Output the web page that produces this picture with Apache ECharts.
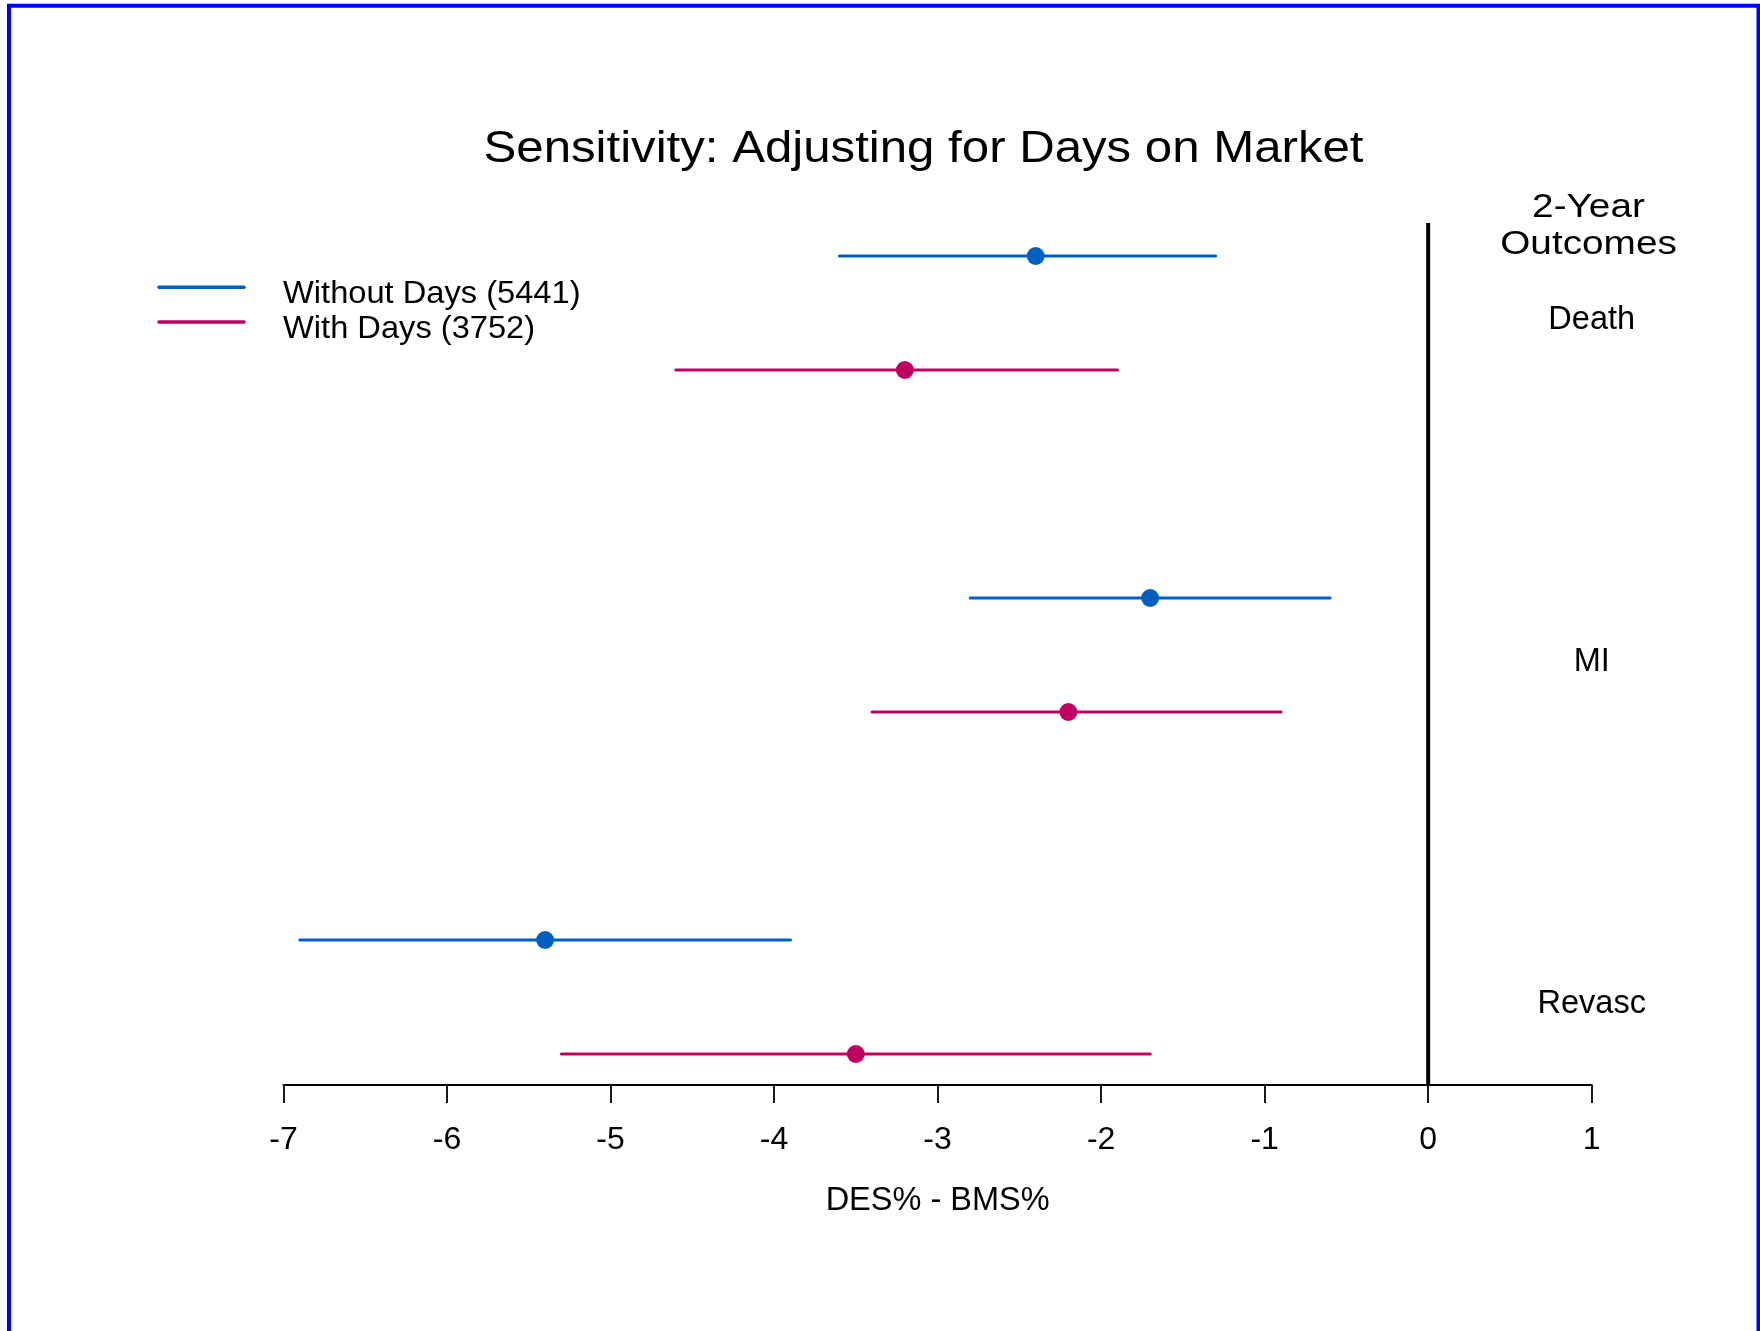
<!DOCTYPE html>
<html>
<head>
<meta charset="utf-8">
<script src="https://cdn.jsdelivr.net/npm/echarts@6/dist/echarts.min.js"></script>
<style>
html,body{margin:0;padding:0;background:#fff;}
#chart{width:1760px;height:1331px;}
</style>
</head>
<body>
<div id="chart"></div>
<script>
// ---- data ----
const outcomes = ['Death', 'MI', 'Revasc'];
const groupNames = ['Without Days (5441)', 'With Days (3752)'];
const withoutLow  = [-3.6, -2.8, -6.9];
const withoutEst  = [-2.4, -1.7, -5.4];
const withoutHigh = [-1.3, -0.6, -3.9];
const withLow  = [-4.6, -3.4, -5.3];
const withEst  = [-3.2, -2.2, -3.5];
const withHigh = [-1.9, -0.9, -1.7];
const xTickMin = -7, xTickMax = 1, xTickStep = 1;
const refValue = 0;
const headerText = '2-Year\nOutcomes';
const titleText = 'Sensitivity: Adjusting for Days on Market';
const xAxisName = 'DES% - BMS%';

// ---- styles ----
const FONT = "'Liberation Sans', Arial, Helvetica, sans-serif";
const colors = ['#0060c0', '#c00060'];
const yMax = 8.272;

function rowOf(g, k) { return 3 * g + 1 + k; }

const lows = [withoutLow, withLow];
const ests = [withoutEst, withEst];
const highs = [withoutHigh, withHigh];

const series = [];
for (let k = 0; k < 2; k++) {
  const ciData = outcomes.map((o, g) => [lows[k][g], highs[k][g], rowOf(g, k)]);
  series.push({
    type: 'custom',
    name: groupNames[k],
    silent: true,
    data: ciData,
    encode: { x: [0, 1], y: 2 },
    renderItem: function (params, api) {
      const p1 = api.coord([api.value(0), api.value(2)]);
      const p2 = api.coord([api.value(1), api.value(2)]);
      return {
        type: 'line',
        shape: { x1: p1[0], y1: p1[1], x2: p2[0], y2: p2[1] },
        style: { stroke: colors[k], lineWidth: 3.2, lineCap: 'round' }
      };
    },
    z: 2
  });
  series.push({
    type: 'scatter',
    name: groupNames[k] + ' est',
    silent: true,
    symbol: 'circle',
    symbolSize: 18,
    itemStyle: { color: colors[k], opacity: 1 },
    data: outcomes.map((o, g) => [ests[k][g], rowOf(g, k)]),
    z: 3
  });
}
// reference line at 0
series.push({
  type: 'line',
  silent: true,
  symbol: 'none',
  data: [[refValue, 0.71], [refValue, yMax]],
  lineStyle: { color: '#000', width: 4 },
  z: 4
});
// outcome labels
series.push({
  type: 'custom',
  silent: true,
  data: outcomes.map((o, g) => [xTickMax, 3 * g + 1.5, o]),
  encode: { x: 0, y: 1 },
  clip: false,
  renderItem: function (params, api) {
    const p = api.coord([api.value(0), api.value(1)]);
    return {
      type: 'text',
      x: p[0], y: p[1] + 7,
      style: {
        text: outcomes[params.dataIndex],
        fill: '#000',
        font: '32.5px ' + FONT,
        textAlign: 'center',
        textVerticalAlign: 'middle'
      }
    };
  },
  z: 5
});

const graphic = [
  {
    type: 'rect',
    shape: { x: 9, y: 5.7, width: 1749.5, height: 2000 },
    style: { fill: 'none', stroke: '#0000ff', lineWidth: 4 },
    silent: true
  },
  {
    type: 'text',
    x: 923.5, y: 149.5,
    scaleX: 1.105,
    style: { text: titleText, font: '44.5px ' + FONT, fill: '#000', textAlign: 'center', textVerticalAlign: 'middle' }
  },
  {
    type: 'text',
    x: 1588.5, y: 226,
    scaleX: 1.14,
    style: { text: headerText, font: '34px ' + FONT, fill: '#000', textAlign: 'center', textVerticalAlign: 'middle', lineHeight: 36.5 }
  }
];
const legendY = [287.3, 322.1];
for (let k = 0; k < 2; k++) {
  graphic.push({
    type: 'line',
    shape: { x1: 159, y1: legendY[k], x2: 244, y2: legendY[k] },
    style: { stroke: colors[k], lineWidth: 3.5, lineCap: 'round' },
    silent: true
  });
  graphic.push({
    type: 'text',
    x: 283, y: legendY[k] + 7,
    scaleX: 1.02,
    style: { text: groupNames[k], font: '32px ' + FONT, fill: '#000', textAlign: 'left', textVerticalAlign: 'middle' }
  });
}

const chart = echarts.init(document.getElementById('chart'), null, { renderer: 'canvas' });
chart.setOption({
  animation: false,
  backgroundColor: '#fff',
  grid: { left: 283.5, right: 168.3, top: 142, bottom: 1331 - 1085, containLabel: false },
  xAxis: {
    type: 'value',
    min: xTickMin, max: xTickMax, interval: xTickStep,
    splitLine: { show: false },
    axisLine: { show: true, onZero: false, lineStyle: { color: '#000', width: 2 } },
    axisTick: { show: true, length: 18, lineStyle: { color: '#000', width: 1.8 } },
    axisLabel: { color: '#000', fontFamily: FONT, fontSize: 32, margin: 39 },
    name: xAxisName,
    nameLocation: 'middle',
    nameGap: 100,
    nameTextStyle: { color: '#000', fontFamily: FONT, fontSize: 32.5 }
  },
  yAxis: {
    type: 'value',
    min: 0, max: yMax,
    inverse: true,
    show: false,
    splitLine: { show: false }
  },
  graphic: graphic,
  series: series
});
</script>
</body>
</html>
